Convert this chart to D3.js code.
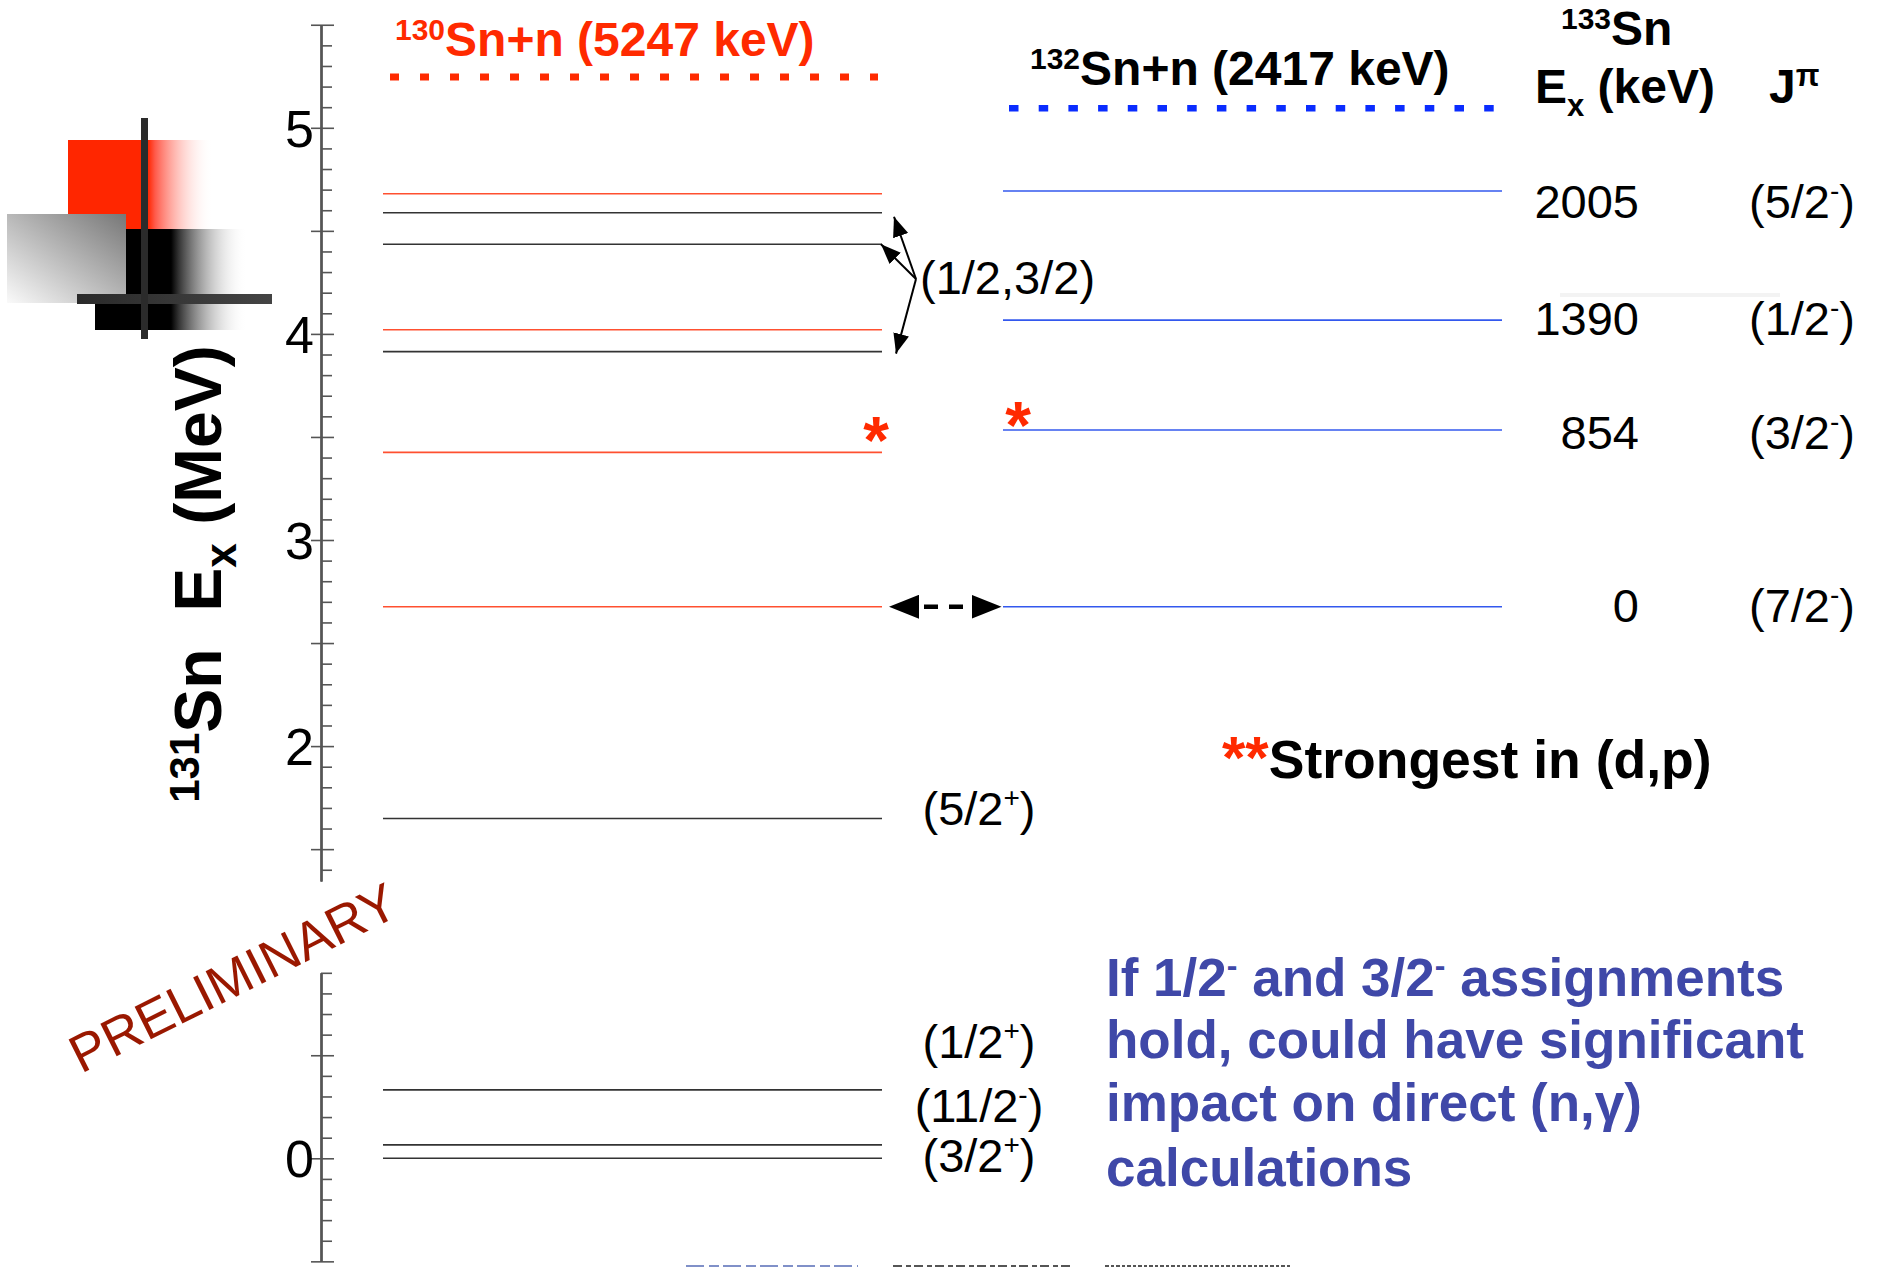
<!DOCTYPE html>
<html>
<head>
<meta charset="utf-8">
<script src="https://cdn.jsdelivr.net/npm/d3@7"></script>
<style>
  html, body { margin: 0; padding: 0; background: #fff; }
  svg { display: block; font-family: "Liberation Sans", Arial, Helvetica, sans-serif; }
</style>
</head>
<body>
<svg id="chart" width="1881" height="1267"></svg>
<script>
// 131Sn levels seen in 130Sn(d,p), next to the 133Sn single-neutron levels

// 131Sn levels (MeV)
const sn131Red = [4.680, 4.020, 3.425, 2.676];
const sn131Black = [4.588, 4.435, 3.914, 1.649, 0.332, 0.065, 0.000];
const sn130nThreshold = 5.247;

// 133Sn levels, drawn on the same scale (MeV), ground state lined up at 2.676
const sn133Levels = [4.693, 4.067, 3.534, 2.676];
const sn133Ex = ['2005', '1390', '854', '0'];
const sn133Jpi = ['(5/2', '(1/2', '(3/2', '(7/2'];
const sn133LabelAt = [4.561, 3.995, 3.443, 2.604];
const sn132nThreshold = 5.095;

// spin labels on the 131Sn side
const sn131Spin = ['(5/2', '(1/2', '(11/2', '(3/2'];
const sn131Parity = ['+', '+', '-', '+'];
const sn131SpinAt = [1.617, 0.487, 0.178, -0.065];

// levels pointed at by the (1/2,3/2) arrows
const multipletTargets = [4.588, 4.435, 3.914];
const strongLevels = {sn131: 3.425, sn133: 3.534};

// axis
const axisSegments = [[1.345, 5.5], [-0.5, 0.9]];
const tickLabels = [0, 2, 3, 4, 5];

const svg = d3.select('#chart');

const y = d3.scaleLinear().domain([0, 5]).range([1158.3, 127.8]);
const col131 = [383, 882];
const col133 = [1003, 1502];
const axisX = 321;

const defs = svg.append('defs');

// ---- logo in the corner ----
function hGrad(id, stops) {
  const g = defs.append('linearGradient').attr('id', id)
    .attr('x1', 0).attr('y1', 0).attr('x2', 1).attr('y2', 0);
  stops.forEach(s => g.append('stop').attr('offset', s[0]).attr('stop-color', s[1]).attr('stop-opacity', s[2] ?? 1));
}
hGrad('redFade', [[0, '#ff2600'], [0.55, '#ff2600'], [0.6, '#ff5a4a'], [1, '#ffffff', 0]]);
hGrad('blackFade', [[0, '#000'], [0.5, '#000'], [0.55, '#333'], [1, '#ffffff', 0]]);
hGrad('barFade', [[0, '#2a2a2a'], [1, '#444']]);
const gray = defs.append('linearGradient').attr('id', 'grayFade')
  .attr('x1', 0).attr('y1', 1).attr('x2', 1).attr('y2', 0);
gray.append('stop').attr('offset', 0).attr('stop-color', '#fafafa');
gray.append('stop').attr('offset', 1).attr('stop-color', '#777');

const logo = svg.append('g').attr('class', 'logo');
logo.append('rect').attr('x', 68).attr('y', 140).attr('width', 145).attr('height', 89).attr('fill', 'url(#redFade)');
logo.append('rect').attr('x', 95).attr('y', 229).attr('width', 152).attr('height', 101).attr('fill', 'url(#blackFade)');
logo.append('rect').attr('x', 7).attr('y', 214).attr('width', 119).attr('height', 89).attr('fill', 'url(#grayFade)');
logo.append('rect').attr('x', 77).attr('y', 294).attr('width', 195).attr('height', 10).attr('fill', 'url(#barFade)');
logo.append('rect').attr('x', 141).attr('y', 118).attr('width', 7).attr('height', 221).attr('fill', '#2b2b2b');

// faint smudge near the 1390 label
svg.append('rect').attr('x', 1560).attr('y', 293).attr('width', 220).attr('height', 4).attr('fill', '#f3f3f3');

// clipped tops of a text line below the picture edge
const clipped = svg.append('g');
clipped.append('line').attr('x1', 686).attr('x2', 858).attr('y1', 1266).attr('y2', 1266)
  .attr('stroke', '#8090c8').attr('stroke-width', 2).attr('stroke-dasharray', '18 5 10 4');
clipped.append('line').attr('x1', 893).attr('x2', 1072).attr('y1', 1266).attr('y2', 1266)
  .attr('stroke', '#555').attr('stroke-width', 2).attr('stroke-dasharray', '9 4 5 3');
clipped.append('line').attr('x1', 1105).attr('x2', 1291).attr('y1', 1266).attr('y2', 1266)
  .attr('stroke', '#555').attr('stroke-width', 2).attr('stroke-dasharray', '4 2 3 2');

// ---- energy axis, broken in two pieces ----
const axisG = svg.append('g').attr('transform', `translate(${axisX},0)`);
const minorVals = d3.range(-5, 56).map(d => d / 10);
axisSegments.forEach(([lo, hi]) => {
  const seg = d3.scaleLinear().domain([lo, hi]).range([y(lo), y(hi)]);
  const inSeg = v => v >= lo - 1e-6 && v <= hi + 1e-6;
  const isHalf = v => Math.abs(v * 2 - Math.round(v * 2)) < 1e-6;
  const minor = minorVals.filter(v => inSeg(v) && !isHalf(v));
  const major = minorVals.filter(v => inSeg(v) && isHalf(v));

  const gMinor = axisG.append('g').call(d3.axisRight(seg).tickValues(minor).tickSize(11).tickSizeOuter(0).tickFormat(''));
  const gMajR = axisG.append('g').call(d3.axisRight(seg).tickValues(major).tickSize(13).tickSizeOuter(0).tickFormat(''));
  const gMajL = axisG.append('g').call(d3.axisLeft(seg).tickValues(major).tickSize(10).tickSizeOuter(0).tickFormat(''));
  [gMinor, gMajR, gMajL].forEach(g => {
    g.selectAll('.tick line').attr('stroke', '#555').attr('stroke-width', 1.6);
    g.select('.domain').attr('stroke', '#555').attr('stroke-width', 2);
  });
});

svg.append('g').selectAll('text').data(tickLabels).join('text')
  .attr('x', 314).attr('y', d => y(d) + 19)
  .attr('text-anchor', 'end').attr('font-size', 52).attr('fill', '#000')
  .text(d => d);

// axis title
const yTitle = svg.append('text')
  .attr('transform', 'translate(221,574) rotate(-90)')
  .attr('text-anchor', 'middle').attr('font-size', 66).attr('font-weight', 'bold');
yTitle.append('tspan').attr('font-size', 42).attr('dy', -22).text('131');
yTitle.append('tspan').attr('dy', 22).text('Sn\u00a0\u00a0E');
yTitle.append('tspan').attr('font-size', 44).attr('dy', 15).text('x');
yTitle.append('tspan').attr('dy', -15).text(' (MeV)');

// ---- thresholds ----
svg.append('line')
  .attr('x1', 390).attr('x2', 878).attr('y1', y(sn130nThreshold)).attr('y2', y(sn130nThreshold))
  .attr('stroke', '#ff2a00').attr('stroke-width', 7).attr('stroke-dasharray', '9 21');
svg.append('line')
  .attr('x1', 1009).attr('x2', 1494).attr('y1', y(sn132nThreshold)).attr('y2', y(sn132nThreshold))
  .attr('stroke', '#0a2cff').attr('stroke-width', 6.5).attr('stroke-dasharray', '9.5 20.2');

// ---- level lines ----
function levels(data, col, color, width) {
  svg.append('g').selectAll('line').data(data).join('line')
    .attr('x1', col[0]).attr('x2', col[1])
    .attr('y1', d => y(d)).attr('y2', d => y(d))
    .attr('stroke', color).attr('stroke-width', width);
}
levels(sn131Red, col131, '#ff5030', 1.6);
levels(sn131Black, col131, '#333', 1.6);
levels(sn133Levels, col133, '#3358ee', 1.6);

// ---- headers ----
function header(x, yy, parts, color) {
  const t = svg.append('text').attr('x', x).attr('y', yy)
    .attr('font-size', 48).attr('font-weight', 'bold').attr('fill', color);
  parts.forEach(p => t.append('tspan').attr('font-size', p.size || null).attr('dy', p.dy || 0).text(p.t));
  return t;
}
header(395, 56, [{t: '130', size: 30, dy: -16}, {t: 'Sn+n (5247 keV)', dy: 16}], '#ff2a00');
header(1030, 85, [{t: '132', size: 30, dy: -16}, {t: 'Sn+n (2417 keV)', dy: 16}], '#000');
header(1561, 45, [{t: '133', size: 30, dy: -16}, {t: 'Sn', dy: 16}], '#000');
header(1535, 103, [{t: 'E'}, {t: 'x', size: 31, dy: 13}, {t: ' (keV)', dy: -13}], '#000');
header(1769, 103, [{t: 'J'}, {t: '\u03c0', size: 31, dy: -17}], '#000');

// ---- 133Sn labels ----
svg.append('g').selectAll('text').data(sn133Ex).join('text')
  .attr('x', 1639).attr('y', (d, i) => y(sn133LabelAt[i]))
  .attr('text-anchor', 'end').attr('font-size', 47)
  .text(d => d);

const jpi = svg.append('g').selectAll('text').data(sn133Jpi).join('text')
  .attr('x', 1749).attr('y', (d, i) => y(sn133LabelAt[i]))
  .attr('font-size', 47);
jpi.append('tspan').text(d => d);
jpi.append('tspan').attr('font-size', 28).attr('dy', -18).text('-');
jpi.append('tspan').attr('dy', 18).text(')');

// ---- 131Sn spin labels ----
const spins = svg.append('g').selectAll('text').data(sn131Spin).join('text')
  .attr('x', 979).attr('y', (d, i) => y(sn131SpinAt[i]))
  .attr('text-anchor', 'middle').attr('font-size', 47);
spins.append('tspan').text(d => d);
spins.append('tspan').attr('font-size', 28).attr('dy', -18).text((d, i) => sn131Parity[i]);
spins.append('tspan').attr('dy', 18).text(')');

svg.append('text').attr('x', 920).attr('y', y(4.194)).attr('font-size', 47).text('(1/2,3/2)');

// ---- arrows ----
defs.append('marker').attr('id', 'headSmall')
  .attr('viewBox', '0 0 20 16').attr('refX', 20).attr('refY', 8)
  .attr('markerWidth', 20).attr('markerHeight', 16).attr('markerUnits', 'userSpaceOnUse')
  .attr('orient', 'auto')
  .append('path').attr('d', 'M0,0 L20,8 L0,16 Z').attr('fill', '#000');

const origin = [916, 279];
const tips = [[894, y(multipletTargets[0]) + 4], [881, y(multipletTargets[1])], [896, y(multipletTargets[2]) + 2]];
svg.append('g').selectAll('line').data(tips).join('line')
  .attr('x1', origin[0]).attr('y1', origin[1])
  .attr('x2', d => d[0]).attr('y2', d => d[1])
  .attr('stroke', '#000').attr('stroke-width', 2)
  .attr('marker-end', 'url(#headSmall)');

// dashed double arrow linking the two 7/2- states
defs.append('marker').attr('id', 'headBig')
  .attr('viewBox', '0 0 30 24').attr('refX', 0).attr('refY', 12)
  .attr('markerWidth', 30).attr('markerHeight', 24).attr('markerUnits', 'userSpaceOnUse')
  .attr('orient', 'auto-start-reverse')
  .append('path').attr('d', 'M0,0 L30,12 L0,24 Z').attr('fill', '#000');
const yg = y(sn133Levels[3]);
svg.append('line')
  .attr('x1', 919).attr('x2', 971.5).attr('y1', yg).attr('y2', yg)
  .attr('stroke', '#000').attr('stroke-width', 4.5).attr('stroke-dasharray', '0 5 14 11 14 20')
  .attr('marker-start', 'url(#headBig)').attr('marker-end', 'url(#headBig)');

// ---- strongest-state stars ----
svg.append('text').attr('x', 876).attr('y', y(strongLevels.sn131) + 11)
  .attr('text-anchor', 'middle').attr('font-size', 66).attr('font-weight', 'bold').attr('fill', '#ff2a00').text('*');
svg.append('text').attr('x', 1018).attr('y', y(strongLevels.sn133) + 18)
  .attr('text-anchor', 'middle').attr('font-size', 66).attr('font-weight', 'bold').attr('fill', '#ff2a00').text('*');

const strong = svg.append('text').attr('x', 1222).attr('y', 778)
  .attr('font-size', 53.5).attr('font-weight', 'bold');
strong.append('tspan').attr('fill', '#ff2a00').attr('font-size', 60).text('**');
strong.append('tspan').attr('fill', '#000').text('Strongest in (d,p)');

// ---- note ----
const noteLines = [
  [['If 1/2'], ['-', true], [' and 3/2'], ['-', true], [' assignments']],
  [['hold, could have significant']],
  [['impact on direct (n,\u03b3)']],
  [['calculations']]
];
const noteY = [996, 1058, 1121, 1186];
noteLines.forEach((parts, i) => {
  const t = svg.append('text').attr('x', 1106).attr('y', noteY[i])
    .attr('font-size', 53).attr('font-weight', 'bold').attr('fill', '#3f48a8');
  let raised = false;
  parts.forEach(p => {
    const sup = !!p[1];
    const dy = sup ? -20 : (raised ? 20 : 0);
    raised = sup;
    t.append('tspan').attr('font-size', sup ? 32 : null).attr('dy', dy).text(p[0]);
  });
});

// ---- watermark ----
svg.append('text')
  .attr('transform', 'translate(81,1074) rotate(-26.5)')
  .attr('font-size', 53).attr('fill', '#9a1800')
  .text('PRELIMINARY');
</script>
</body>
</html>
